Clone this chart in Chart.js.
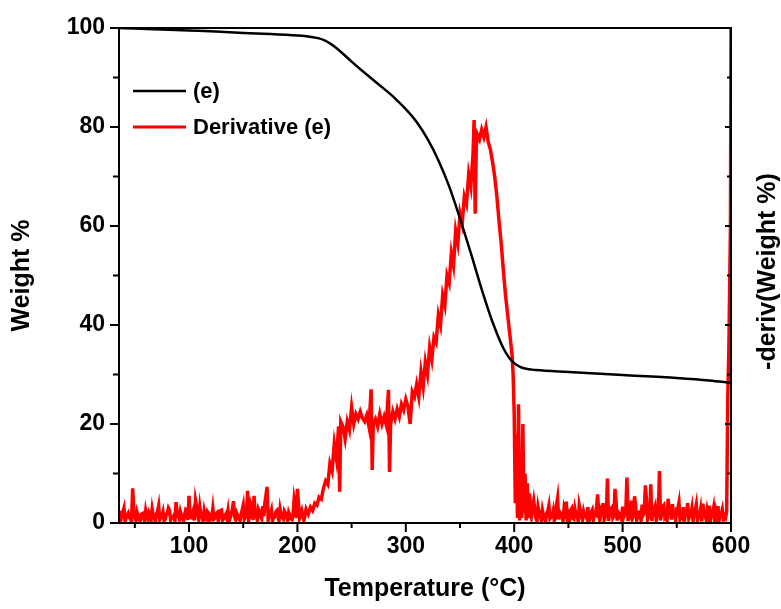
<!DOCTYPE html>
<html><head><meta charset="utf-8">
<script src="https://cdn.jsdelivr.net/npm/chart.js@4"></script>
<style>html,body{margin:0;padding:0;background:#fff;}#wrap{position:relative;width:781px;height:609px;}</style>
</head><body><div id="wrap"><canvas id="c" width="781" height="609"></canvas></div>
<script>
const seriesNames = ['(e)', 'Derivative (e)'];
const xTickLabels = [100, 200, 300, 400, 500, 600];
const xMinorTicks = [50, 150, 250, 350, 450, 550];
const yTickLabels = [0, 20, 40, 60, 80, 100];
const yMinorTicks = [10, 30, 50, 70, 90];

const weightTemps = [35.4,50,75,100,125,150,175,200,210,220,225,230,235,240,250,260,270,280,290,300,310,320,330,340,350,360,370,380,390,395,400,405,410,420,450,500,550,580,600];
const weightValues = [100,99.9,99.7,99.5,99.3,99.0,98.8,98.5,98.3,97.9,97.5,96.9,96.1,95.2,93.2,91.3,89.5,87.7,85.8,83.6,81.0,77.6,73.3,68.0,61.5,54.5,47.2,40.6,35.3,33.5,32.3,31.6,31.2,30.9,30.5,29.9,29.3,28.8,28.3];

const derivTemps = [
36,38,40,42,44,46,48,50,52,54,
56,58,60,62,64,66,68,70,72,74,
76,78,80,82,84,86,88,90,92,94,
96,98,100,102,104,106,108,110,112,114,
116,118,120,122,124,126,128,130,132,134,
136,138,140,142,144,146,148,150,152,154,
156,158,160,162,164,166,168,170,172,174,
176,178,180,182,184,186,188,190,192,194,
196,198,200,202,204,206,208,210,212,214,
216,218,220,222,224,226,228,230,232,234,
236,238,239,240,242,244,246,248,250,252,
254,256,258,260,262,264,266,268,269,270,
272,274,276,278,280,282,284,285,286,288,
290,292,294,296,298,300,302,304,306,308,
310,312,314,316,318,320,322,324,326,328,
330,332,334,336,338,340,342,344,346,348,
350,352,354,356,358,360,362,363,364,365,
366,368,370,372,374,376,378,380,382,384,
386,388,390,392,394,396,398,399,400,401,
402,403,404,405,406,407,408,409,410,411,
412,413,414,416,418,420,422,424,426,428,
430,432,434,436,438,440,442,444,446,448,
450,452,454,456,458,460,462,464,466,468,
470,472,474,476,478,480,482,484,486,488,
490,492,494,496,498,500,502,504,506,508,
510,512,514,516,518,520,522,524,526,528,
530,532,534,536,538,540,542,544,546,548,
550,552,554,556,558,560,562,564,566,568,
570,572,574,576,578,580,582,584,586,588,
590,592,594,596,597,598,599.5,600];
const derivValues = [
2.5,1.5,3,1,2,0.8,7,1.2,2.2,0.6,
1.8,1,2.4,0.8,1.6,2.8,1,1.8,3.5,1.2,
2.2,0.7,1.9,2.6,1,1.5,4.2,1.4,2.3,0.9,
1.7,2.5,5.5,1.1,2.6,4.6,2,3.2,1.2,2.4,
0.8,2,1.3,2.9,1,2.1,1.4,2.6,0.9,1.8,
2.4,1.1,2.7,1.3,2,0.8,1.7,3.6,1.2,6.5,
1.6,3.1,5.5,1.5,2.8,1.3,3.4,4.1,7.3,1.8,
2.6,1.2,2.2,1.6,2.8,1.1,2.4,1.5,2.1,0.9,
1.8,3.5,6.9,1,2.5,0.5,2.8,1.8,3.2,2.5,
4,3.6,5.2,4.8,7,8.5,7.8,12,10.5,16,
13,19.5,6.3,20.5,19.5,17,20.5,18.8,23.4,20,
22,21,22.5,21.2,20.5,21.8,19.5,27,10.7,20,
21,19.5,22,20,21.5,19.8,26.9,10.3,20,22.5,
21,23,21.5,24,22.8,25,23.5,20,26.5,25.5,
28,25.5,30.5,27.5,32.5,30,35.5,33,37.5,36.5,
42,40,46,44,50,48.5,54.5,52,59,56.5,
62.5,60.5,66,64.5,70.5,68,74.5,81.4,62.5,76,
78.5,77.5,79.5,78,80,77,75.5,73,70,66,
61,56.5,51,46,42,38,34,30,22,4,
18,1,24,0.5,14,1,20,2,10,0.5,
8,1,6,1.5,4.5,1,3.2,1.5,2.6,0.8,
2,3.5,1.2,2.4,1,5,2.2,1.4,3,4.3,
1.6,2.5,1,2.8,1.8,3.6,1.2,2.3,1.5,3.2,
1.1,2.6,1.9,3.4,1.3,2.7,4,1.6,9,2,
3.1,1.4,4.2,2.2,1.2,3.3,1.8,9.2,2.4,4.5,
1.5,3.5,2.1,1.3,3.7,2,4.8,1.6,7.8,2.5,
3.4,1.7,10.5,2.3,3.6,1.4,4.9,2.6,3.8,1.6,
2.9,4.1,1.8,3.2,2.1,4,1.5,3,2.2,3.7,
1.6,2.8,3.9,1.7,2.6,3.5,1.9,3.1,2.3,3.4,
1.8,2.7,1.5,2.2,25,35,60,100];

// extra noisy baseline readings at odd temperatures
const derivExtraTemps = [
37,39,41,43,45,47,49,51,53,55,
57,59,61,63,65,67,69,71,73,75,
77,79,81,83,85,87,89,91,93,95,
97,99,101,103,105,107,109,111,113,115,
117,119,121,123,125,127,129,131,133,135,
137,139,141,143,145,147,149,151,153,155,
157,159,161,163,165,167,169,171,173,175,
177,179,181,183,185,187,189,191,193,195,
197,199,
421,423,425,427,429,431,433,435,437,439,
441,443,445,447,449,451,453,455,457,459,
461,463,465,467,469,471,473,475,477,479,
481,483,485,487,489,491,493,495,497,499,
501,503,505,507,509,511,513,515,517,519,
521,523,525,527,529,531,533,535,537,539,
541,543,545,547,549,551,553,555,557,559,
561,563,565,567,569,571,573,575,577,579,
581,583,585,587,589,591,593,595];
const derivExtraValues = [
0.5,2.2,0.4,1.6,1.1,0.3,2.8,0.6,1.4,0.5,
1.9,0.4,1.2,2.1,0.6,1.5,0.3,2.4,0.7,1.3,
0.5,1.8,3,0.6,1.1,0.4,2.2,0.8,1.5,0.3,
2.7,0.6,1.2,1.9,0.5,3.4,0.7,1.6,0.4,1.3,
2.3,0.5,1,0.8,1.9,0.4,2.5,0.6,1.4,0.9,
0.3,2,4.4,0.7,1.5,0.5,2.6,0.8,1.2,0.4,
3.8,0.6,1.7,0.5,2.3,0.9,1.4,5.6,0.6,1.8,
0.4,1.2,2.5,0.5,1.6,0.8,2,0.3,1.5,0.7,
4.8,1,
0.4,2,0.6,1.5,0.3,2.4,0.9,1.3,0.5,3.6,
0.7,1.8,0.4,2.2,1,0.5,2.9,0.8,1.6,0.4,
2.5,0.6,1.4,0.9,0.3,2.1,0.7,1.7,5.8,0.5,
2.3,0.6,1.5,0.4,2.8,1,6.9,0.5,1.9,0.7,
1.2,2.6,0.4,1.8,0.9,5.4,0.6,2.2,0.5,1.6,
7.6,0.8,1.3,0.4,2.7,0.6,1.9,0.5,3.3,1.1,
0.4,2.4,0.7,1.6,0.5,2.9,0.8,1.3,0.4,2.1,
0.9,1.7,0.5,2.5,0.6,1.4,0.3,2.2,0.8,1.5,
0.4,1.9,0.6,1.2,0.5,1.8,0.7,1.1];

const FONT = 'Liberation Sans, Arial, sans-serif';

const derivPoints = derivTemps.map((t, i) => ({x: t, y: derivValues[i]}))
  .concat(derivExtraTemps.map((t, i) => ({x: t, y: derivExtraValues[i]})))
  .sort((a, b) => a.x - b.x);

const framePlugin = {
  id: 'frame',
  afterDatasetsDraw(chart) {
    const ctx = chart.ctx;
    const {left, right, top, bottom} = chart.chartArea;
    const x = chart.scales.x, y = chart.scales.y;
    ctx.save();
    ctx.strokeStyle = '#000';
    ctx.lineWidth = 2;
    ctx.beginPath();
    ctx.rect(left, top, right - left, bottom - top);
    const seg = (a, b, c, d) => { ctx.moveTo(a, b); ctx.lineTo(c, d); };
    xTickLabels.forEach(v => { const p = x.getPixelForValue(v); seg(p, bottom, p, bottom + 9); });
    xMinorTicks.forEach(v => { const p = x.getPixelForValue(v); seg(p, bottom, p, bottom + 5); });
    yTickLabels.forEach(v => { const p = y.getPixelForValue(v); seg(left - 9, p, left, p); seg(right - 6, p, right, p); });
    yMinorTicks.forEach(v => { const p = y.getPixelForValue(v); seg(left - 6, p, left, p); seg(right - 4, p, right, p); });
    ctx.stroke();
    // legend
    const items = [{c: '#000', w: 2.5}, {c: '#ff0000', w: 3}];
    ctx.font = 'bold 22px ' + FONT;
    ctx.textBaseline = 'middle';
    ctx.textAlign = 'left';
    items.forEach((it, i) => {
      const ly = 91 + i * 36;
      ctx.strokeStyle = it.c; ctx.lineWidth = it.w;
      ctx.beginPath(); ctx.moveTo(133, ly); ctx.lineTo(186, ly); ctx.stroke();
      ctx.fillStyle = '#000';
      ctx.fillText(seriesNames[i], 193, ly + 1);
    });
    // right axis title
    ctx.translate(768, (top + bottom) / 2 - 4);
    ctx.rotate(-Math.PI / 2);
    ctx.textAlign = 'center';
    ctx.font = 'bold 25px ' + FONT;
    ctx.fillText('-deriv(Weight %)', 0, 0);
    ctx.restore();
  }
};

const tickFont = {family: FONT, size: 23, weight: 'bold'};
const titleFont = {family: FONT, size: 25, weight: 'bold'};

new Chart(document.getElementById('c'), {
  type: 'line',
  data: {
    datasets: [
      {label: seriesNames[0], data: weightTemps.map((t, i) => ({x: t, y: weightValues[i]})),
       borderColor: '#000', borderWidth: 2.5, pointRadius: 0, cubicInterpolationMode: 'monotone', yAxisID: 'y'},
      {label: seriesNames[1], data: derivPoints,
       borderColor: '#ff0000', borderWidth: 3.5, pointRadius: 0, tension: 0, yAxisID: 'y2'}
    ]
  },
  options: {
    responsive: false, animation: false, devicePixelRatio: 1,
    layout: {padding: {top: 28, left: 0, right: 0, bottom: 0}},
    plugins: {legend: {display: false}, tooltip: {enabled: false}},
    scales: {
      x: {type: 'linear', min: 35.4, max: 600,
          afterBuildTicks: s => { s.ticks = xTickLabels.map(v => ({value: v})); },
          afterFit: s => { s.height = 86; },
          grid: {display: false, drawTicks: false}, border: {display: false},
          ticks: {font: tickFont, color: '#000', padding: 10, maxRotation: 0, autoSkip: false},
          title: {display: true, text: 'Temperature (°C)', font: titleFont, color: '#000', padding: {top: 0, bottom: 5}}},
      y: {type: 'linear', position: 'left', min: 0, max: 100,
          afterBuildTicks: s => { s.ticks = yTickLabels.map(v => ({value: v})); },
          afterFit: s => { s.width = 119; },
          grid: {display: false, drawTicks: false}, border: {display: false},
          ticks: {font: tickFont, color: '#000', padding: 14},
          title: {display: true, text: 'Weight %', font: titleFont, color: '#000', padding: {top: 7, bottom: 0}}},
      y2: {type: 'linear', position: 'right', min: 0, max: 100,
          afterFit: s => { s.width = 50; },
          grid: {display: false, drawTicks: false}, border: {display: false},
          ticks: {display: false}}
    }
  },
  plugins: [framePlugin]
});
</script></body></html>
